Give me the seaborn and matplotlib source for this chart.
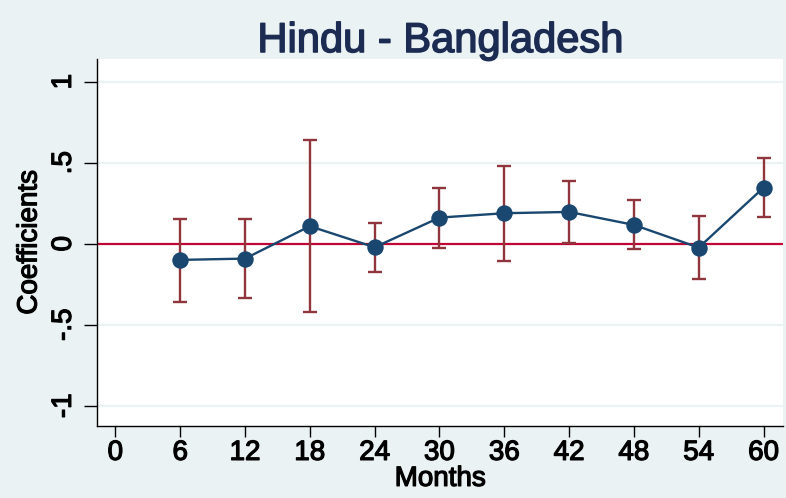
import numpy as np
import pandas as pd
import matplotlib
matplotlib.use("Agg")
import matplotlib.pyplot as plt
import matplotlib.patheffects as pe
import seaborn as sns

# Coefficients by month with 95% CI
months = [6, 12, 18, 24, 30, 36, 42, 48, 54, 60]
coef = [-0.100, -0.092, 0.108, -0.022, 0.161, 0.188, 0.196, 0.116, -0.024, 0.346]
ci_low = [-0.358, -0.334, -0.422, -0.173, -0.026, -0.106, 0.007, -0.034, -0.215, 0.164]
ci_high = [0.153, 0.153, 0.637, 0.128, 0.343, 0.482, 0.385, 0.269, 0.168, 0.527]
xticks = [0, 6, 12, 18, 24, 30, 36, 42, 48, 54, 60]
yticks = [-1, -0.5, 0, 0.5, 1]
ylabels = ["-1", "-.5", "0", ".5", "1"]

df = pd.DataFrame({"month": months, "coef": coef, "lo": ci_low, "hi": ci_high})

bg = "#EAF2F3"
navy = "#1A476F"
maroon = "#90353B"
cranberry = "#C10534"

sns.set_style("white")
plt.rcParams['font.family'] = ['Liberation Sans', 'DejaVu Sans']
plt.rcParams['text.color'] = 'black'
plt.rcParams['xtick.color'] = 'black'
plt.rcParams['ytick.color'] = 'black'
plt.rcParams['axes.labelcolor'] = 'black'

fig = plt.figure(figsize=(7.86, 4.98), dpi=100, facecolor=bg)
ax = fig.add_axes([0.1234, 0.1446, 0.8728, 0.737])
ax.set_facecolor("white")

# grid lines (Stata style) and zero line
for yv in [-1, -0.5, 0.5, 1]:
    ax.axhline(yv, color=bg, lw=1.6, zorder=0)
ax.axhline(0, color=cranberry, lw=1.6, zorder=1)

# confidence intervals
ax.errorbar(df["month"], df["coef"],
            yerr=[df["coef"] - df["lo"], df["hi"] - df["coef"]],
            fmt="none", ecolor=maroon, elinewidth=1.7, capsize=4.8,
            capthick=1.7, zorder=2)

sns.lineplot(data=df, x="month", y="coef", color=navy, lw=1.7, ax=ax,
             zorder=3)
sns.scatterplot(data=df, x="month", y="coef", color=navy, s=140, ax=ax,
                edgecolor=navy, linewidth=0, zorder=4)

ax.set_xlim(-1.7, 61.8)
ax.set_ylim(-1.125, 1.14)
ax.set_xticks(xticks)
ax.set_xticklabels([str(t) for t in xticks], fontsize=20)
ax.set_yticks(yticks)
ax.set_yticklabels(ylabels, fontsize=20, rotation=90, va="center")

for s in ["top", "right"]:
    ax.spines[s].set_visible(False)
for s in ["left", "bottom"]:
    ax.spines[s].set_color("black")
    ax.spines[s].set_linewidth(1.0)

ax.tick_params(axis="y", length=9.5, width=1, color="black", pad=5, left=True)
ax.tick_params(axis="x", length=8, width=1, color="black", pad=2,
               bottom=True, direction="out")

ax.set_xlabel("Months", fontsize=20, labelpad=0)
ax.set_ylabel("Coefficients", fontsize=20, labelpad=6)
title = ax.set_title("Hindu - Bangladesh", fontsize=30, color="#1C2B52", pad=5)

# heavier strokes, like the Stata export
thick = [pe.withStroke(linewidth=0.9, foreground="black")]
for t in ax.get_xticklabels() + ax.get_yticklabels():
    t.set_path_effects(thick)
ax.xaxis.label.set_path_effects(thick)
ax.yaxis.label.set_path_effects(thick)
title.set_path_effects([pe.withStroke(linewidth=1.1, foreground="#1C2B52")])

fig.savefig("out.png", dpi=100, facecolor=bg)
